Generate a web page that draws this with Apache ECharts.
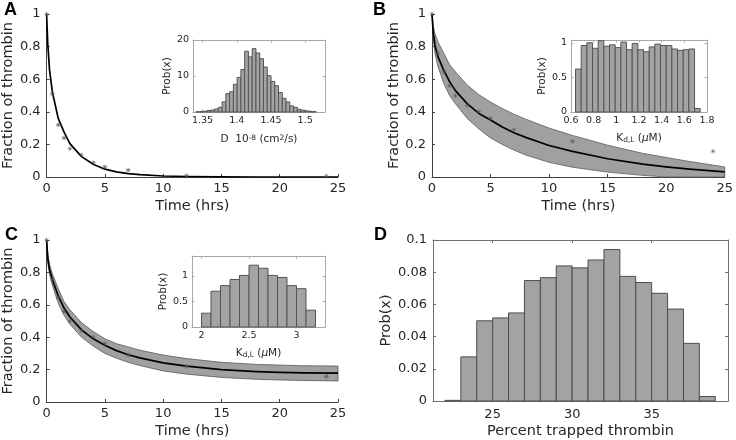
<!DOCTYPE html>
<html><head><meta charset="utf-8">
<script src="https://cdn.jsdelivr.net/npm/echarts@6/dist/echarts.min.js"></script>
<style>html,body{margin:0;padding:0;background:#fff}#c{width:736px;height:440px}</style>
</head><body><div id="c"></div>
<script>
// ---------- data ----------
const tData = [0, 0.5, 1, 1.5, 2, 3, 4, 5, 7, 12, 24];
const dataA = [1, 0.51, 0.32, 0.24, 0.175, 0.135, 0.088, 0.062, 0.042, 0.008, 0.006];
const dataBC = [1, 0.76, 0.645, 0.56, 0.50, 0.44, 0.40, 0.36, 0.29, 0.22, 0.158];

const tFit = [0, 0.1, 0.25, 0.5, 1, 1.5, 2, 3, 4, 5, 6, 7, 8, 10, 12, 15, 18, 20, 22, 25];
const fitA = [1, 0.82, 0.66, 0.52, 0.36, 0.275, 0.205, 0.125, 0.078, 0.048, 0.031, 0.021, 0.014, 0.006, 0.003, 0.001, 0, 0, 0, 0];
const fitB = [1, 0.89, 0.81, 0.74, 0.655, 0.585, 0.53, 0.45, 0.39, 0.35, 0.307, 0.272, 0.243, 0.193, 0.157, 0.112, 0.079, 0.062, 0.048, 0.031];
const upperB = [1, 0.93, 0.88, 0.83, 0.76, 0.69, 0.645, 0.565, 0.505, 0.46, 0.42, 0.385, 0.355, 0.30, 0.255, 0.195, 0.145, 0.12, 0.095, 0.062];
const lowerB = [1, 0.86, 0.76, 0.68, 0.575, 0.5, 0.45, 0.36, 0.295, 0.24, 0.2, 0.165, 0.135, 0.09, 0.06, 0.03, 0.01, 0, 0, 0];
const fitC = [1, 0.89, 0.82, 0.755, 0.655, 0.58, 0.525, 0.445, 0.39, 0.35, 0.317, 0.292, 0.272, 0.242, 0.222, 0.2, 0.188, 0.183, 0.18, 0.178];
const upperC = [1, 0.92, 0.85, 0.79, 0.70, 0.62, 0.57, 0.49, 0.435, 0.39, 0.36, 0.34, 0.32, 0.29, 0.268, 0.245, 0.232, 0.228, 0.224, 0.222];
const lowerC = [1, 0.86, 0.79, 0.72, 0.61, 0.535, 0.48, 0.40, 0.345, 0.30, 0.27, 0.245, 0.225, 0.192, 0.172, 0.152, 0.14, 0.136, 0.133, 0.13];

// inset A histogram: D (1e-8 cm^2/s)
const histA_x = [1.3428, 1.3483, 1.3538, 1.3593, 1.3648, 1.3703, 1.3758, 1.3813, 1.3868, 1.3923, 1.3978, 1.4033, 1.4088, 1.4143, 1.4198, 1.4253, 1.4308, 1.4363, 1.4418, 1.4473, 1.4528, 1.4583, 1.4638, 1.4693, 1.4748, 1.4803, 1.4858, 1.4913, 1.4968, 1.5023, 1.5078, 1.5133];
const histA_y = [0.05, 0.1, 0.2, 0.4, 0.55, 0.85, 1.3, 2.8, 5.1, 5.6, 7.7, 9.6, 11.8, 16.9, 15.3, 17.6, 16.4, 14.8, 12.5, 10.1, 8.5, 7.3, 5.4, 3.8, 2.8, 1.7, 1.3, 0.75, 0.5, 0.3, 0.2, 0.1];
const histA_w = 0.0055;
// inset B histogram: Kd,L (uM)
const histB_x = [0.665, 0.715, 0.765, 0.815, 0.865, 0.915, 0.965, 1.015, 1.065, 1.115, 1.165, 1.215, 1.265, 1.315, 1.365, 1.415, 1.465, 1.515, 1.565, 1.615, 1.665, 1.715];
const histB_y = [0.62, 0.96, 1.0, 0.92, 1.03, 0.95, 0.97, 0.93, 1.01, 0.9, 0.99, 0.9, 0.87, 0.94, 0.98, 0.96, 0.96, 0.91, 0.89, 0.9, 0.91, 0.05];
const histB_w = 0.05;
// inset C histogram: Kd,L (uM)
const histC_x = [2.05, 2.15, 2.25, 2.35, 2.45, 2.55, 2.65, 2.75, 2.85, 2.95, 3.05, 3.15];
const histC_y = [0.27, 0.70, 0.81, 0.93, 1.01, 1.21, 1.15, 1.01, 0.97, 0.81, 0.75, 0.33];
const histC_w = 0.1;
// panel D histogram: percent trapped thrombin
const histD_x = [22.5, 23.5, 24.5, 25.5, 26.5, 27.5, 28.5, 29.5, 30.5, 31.5, 32.5, 33.5, 34.5, 35.5, 36.5, 37.5, 38.5];
const histD_y = [0.0004, 0.0274, 0.0498, 0.0516, 0.0547, 0.0748, 0.0766, 0.0839, 0.0827, 0.0876, 0.0941, 0.0774, 0.0736, 0.0669, 0.0571, 0.0358, 0.0028];
const histD_w = 1;

// tick labels
const ticksT = [0, 5, 10, 15, 20, 25];
const ticksFrac = [0, 0.2, 0.4, 0.6, 0.8, 1];
const ticksAx = [1.35, 1.4, 1.45, 1.5];
const ticksAy = [0, 10, 20];
const ticksBx = [0.6, 0.8, 1, 1.2, 1.4, 1.6, 1.8];
const ticksBy = [0, 0.5, 1];
const ticksCx = [2, 2.5, 3];
const ticksCy = [0, 0.5, 1];
const ticksDx = [25, 30, 35];
const ticksDy = [0, 0.02, 0.04, 0.06, 0.08, 0.1];

// ---------- helpers ----------
const TXT = '#262626', FF = 'DejaVu Sans';
const zip = (a, b) => a.map((v, i) => [v, b[i]]);
const hist = (xs, ys, w) => xs.map((x, i) => [x - w / 2, x + w / 2, ys[i]]);

function mkAxis(dim, grid, min, max, ticks, o) {
  o = o || {};
  const lc = o.lc || '#404040';
  const a = {
    type: 'value', gridIndex: grid, min: min, max: max, position: o.position,
    axisLine: {show: true, onZero: false, lineStyle: {color: lc, width: 1}},
    axisTick: {show: true, inside: true, length: o.tl || 3, customValues: ticks, lineStyle: {color: lc}},
    axisLabel: {show: !o.noLabel, customValues: ticks, color: TXT, fontFamily: FF, fontSize: o.fs || 13, margin: o.margin || 5},
    splitLine: {show: false}
  };
  if (o.name) {
    a.name = o.name; a.nameLocation = 'middle'; a.nameGap = o.gap;
    a.nameRotate = dim === 'y' ? 90 : 0;
    a.nameTextStyle = Object.assign({color: TXT, fontFamily: FF, fontSize: o.nfs || 14.5}, o.nts || {});
  }
  return a;
}

const subRich = {
  n: {fontFamily: FF, fontSize: 10.5, color: TXT, lineHeight: 14, verticalAlign: 'bottom'},
  s: {fontFamily: FF, fontSize: 7.5, color: TXT, lineHeight: 8, padding: [6, 0, 0, 0], verticalAlign: 'bottom'},
  m: {fontFamily: FF, fontSize: 10.5, color: TXT, fontStyle: 'italic', lineHeight: 14, verticalAlign: 'bottom'}
};
const supRich = {
  n: {fontFamily: FF, fontSize: 10.5, color: TXT, lineHeight: 14, verticalAlign: 'top'},
  p: {fontFamily: FF, fontSize: 7.5, color: TXT, lineHeight: 8, padding: [0, 0, 6, 0], verticalAlign: 'top'}
};
const kdName = '{n|K}{s|d,L}{n| (}{m|μ}{n|M)}';

function histSeries(xi, yi, data, edge) {
  return {
    type: 'custom', coordinateSystem: 'cartesian2d', xAxisIndex: xi, yAxisIndex: yi,
    encode: {x: [0, 1], y: 2}, data: data, silent: true, z: 3,
    renderItem: function (params, api) {
      const p0 = api.coord([api.value(0), 0]);
      const p1 = api.coord([api.value(1), api.value(2)]);
      return {type: 'rect', shape: {x: p0[0], y: p1[1], width: p1[0] - p0[0], height: p0[1] - p1[1]},
        style: {fill: '#a3a3a3', stroke: edge || '#4d4d4d', lineWidth: 1}};
    }
  };
}
function bandSeries(xi, yi, ts, up, lo) {
  return {
    type: 'custom', coordinateSystem: 'cartesian2d', xAxisIndex: xi, yAxisIndex: yi,
    data: [[0, 0]], silent: true, z: 2,
    renderItem: function (params, api) {
      const pts = [];
      for (let i = 0; i < ts.length; i++) pts.push(api.coord([ts[i], up[i]]));
      for (let i = ts.length - 1; i >= 0; i--) pts.push(api.coord([ts[i], lo[i]]));
      return {type: 'polygon', shape: {points: pts}, style: {fill: '#a0a0a0', stroke: '#5a5a5a', lineWidth: 0.8}};
    }
  };
}
const star = 'path://M0 4.4L10 4.4L10 5.6L0 5.6Z M4.4 0L5.6 0L5.6 10L4.4 10Z M1.3 2.1L2.1 1.3L8.7 7.9L7.9 8.7Z M7.9 1.3L8.7 2.1L2.1 8.7L1.3 7.9Z';
function lineSeries(xi, yi, xs, ys) {
  return {type: 'line', xAxisIndex: xi, yAxisIndex: yi, data: zip(xs, ys), showSymbol: false, smooth: false,
    lineStyle: {color: '#000', width: 1.7, join: 'round'}, z: 5, silent: true};
}
function dotSeries(xi, yi, xs, ys) {
  return {type: 'scatter', xAxisIndex: xi, yAxisIndex: yi, data: zip(xs, ys), symbol: star, symbolSize: 5,
    itemStyle: {color: '#555'}, z: 6, silent: true};
}

// ---------- layout ----------
const grids = [
  {left: 41, top: 14, width: 297, height: 163},   // 0 A
  {left: 193, top: 40, width: 132, height: 72},   // 1 A inset
  {left: 432, top: 14, width: 296, height: 163},  // 2 B
  {left: 571, top: 40, width: 136, height: 72},   // 3 B inset
  {left: 41, top: 240, width: 297, height: 163},  // 4 C
  {left: 192, top: 256, width: 133, height: 71},  // 5 C inset
  {left: 433, top: 240, width: 295, height: 164}  // 6 D
];
const IL = '#a8a8a8';
const inset = {lc: IL, fs: 9.5, tl: 2.5, margin: 4};

const xAxis = [
  mkAxis('x', 0, 0, 25, ticksT, {name: 'Time (hrs)', gap: 22}),                                   //0
  mkAxis('x', 1, 1.336, 1.529, ticksAx, Object.assign({}, inset, {name: '{n|D  10}{p|-8}{n| (cm}{p|2}{n|/s)}', gap: 22, nts: {rich: supRich}})), //1
  mkAxis('x', 1, 1.336, 1.529, ticksAx, Object.assign({}, inset, {position: 'top', noLabel: true})), //2
  mkAxis('x', 2, 0, 25, ticksT, {name: 'Time (hrs)', gap: 22}),                                   //3
  mkAxis('x', 3, 0.6, 1.8, ticksBx, Object.assign({}, inset, {name: kdName, gap: 18, nts: {rich: subRich}})), //4
  mkAxis('x', 3, 0.6, 1.8, ticksBx, Object.assign({}, inset, {position: 'top', noLabel: true})),   //5
  mkAxis('x', 4, 0, 25, ticksT, {name: 'Time (hrs)', gap: 22}),                                   //6
  mkAxis('x', 5, 1.9, 3.3, ticksCx, Object.assign({}, inset, {name: kdName, gap: 18, nts: {rich: subRich}})), //7
  mkAxis('x', 5, 1.9, 3.3, ticksCx, Object.assign({}, inset, {position: 'top', noLabel: true})),   //8
  mkAxis('x', 6, 21.25, 39.8, ticksDx, {name: 'Percent trapped thrombin', gap: 23, lc: '#707070', margin: 7}), //9
  mkAxis('x', 6, 21.25, 39.8, ticksDx, {position: 'top', noLabel: true, lc: '#707070'})            //10
];
const yAxis = [
  mkAxis('y', 0, 0, 1, ticksFrac, {name: 'Fraction of thrombin', gap: 28, margin: 6}),            //0
  mkAxis('y', 1, 0, 20, ticksAy, Object.assign({}, inset, {name: 'Prob(x)', gap: 19, nfs: 10.5})), //1
  mkAxis('y', 1, 0, 20, ticksAy, Object.assign({}, inset, {position: 'right', noLabel: true})),    //2
  mkAxis('y', 2, 0, 1, ticksFrac, {name: 'Fraction of thrombin', gap: 28, margin: 6}),            //3
  mkAxis('y', 3, 0, 1.04, ticksBy, Object.assign({}, inset, {name: 'Prob(x)', gap: 19, nfs: 10.5})), //4
  mkAxis('y', 3, 0, 1.04, ticksBy, Object.assign({}, inset, {position: 'right', noLabel: true})),  //5
  mkAxis('y', 4, 0, 1, ticksFrac, {name: 'Fraction of thrombin', gap: 28, margin: 6}),            //6
  mkAxis('y', 5, 0, 1.39, ticksCy, Object.assign({}, inset, {name: 'Prob(x)', gap: 19, nfs: 10.5})), //7
  mkAxis('y', 5, 0, 1.39, ticksCy, Object.assign({}, inset, {position: 'right', noLabel: true})),  //8
  mkAxis('y', 6, 0, 0.1, ticksDy, {name: 'Prob(x)', gap: 38, lc: '#707070', margin: 6}),          //9
  mkAxis('y', 6, 0, 0.1, ticksDy, {position: 'right', noLabel: true, lc: '#707070'})              //10
];

const letter = (t, l, tp) => ({type: 'text', left: l, top: tp,
  style: {text: t, font: 'bold 18px "Liberation Sans"', fill: '#000'}});

const option = {
  animation: false,
  backgroundColor: '#fff',
  grid: grids.map(g => Object.assign({show: true, backgroundColor: '#fff', borderWidth: 0}, g)),
  xAxis: xAxis,
  yAxis: yAxis,
  graphic: [letter('A', 4, 1), letter('B', 373, 1), letter('C', 5, 226), letter('D', 374, 226)],
  series: [
    lineSeries(0, 0, tFit, fitA),
    dotSeries(0, 0, tData, dataA),
    histSeries(1, 1, hist(histA_x, histA_y, histA_w), '#555'),
    bandSeries(3, 3, tFit, upperB, lowerB),
    lineSeries(3, 3, tFit, fitB),
    dotSeries(3, 3, tData, dataBC),
    histSeries(4, 4, hist(histB_x, histB_y, histB_w), '#555'),
    bandSeries(6, 6, tFit, upperC, lowerC),
    lineSeries(6, 6, tFit, fitC),
    dotSeries(6, 6, tData, dataBC),
    histSeries(7, 7, hist(histC_x, histC_y, histC_w), '#555'),
    histSeries(9, 9, hist(histD_x, histD_y, histD_w), '#4d4d4d')
  ]
};
const chart = echarts.init(document.getElementById('c'), null, {renderer: 'canvas'});
chart.setOption(option);
</script>
</body></html>
